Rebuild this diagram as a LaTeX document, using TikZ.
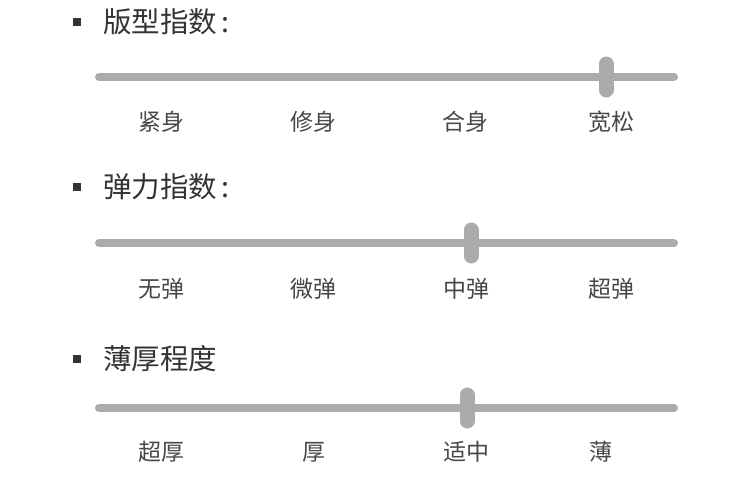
\documentclass[tikz,border=0pt]{standalone}
\usepackage{fontspec}
\setmainfont{Noto Sans CJK SC}
\usetikzlibrary{positioning}

\begin{document}
\begin{tikzpicture}[x=1pt, y=-1pt,
    heading/.style={font=\fontsize{28.5}{32}\selectfont, text=black!80, anchor=west, inner sep=0pt},
    ticklabel/.style={font=\fontsize{23}{27}\selectfont, text=black!72, inner sep=0pt},
    track/.style={line width=8pt, line cap=round, draw=black!33},
    knob/.style={line width=15pt, line cap=round, draw=black!33}]
    \useasboundingbox (0,0) rectangle (750,496);
    % One slider per row: heading, track, knob and tick labels
    \foreach \i/\ty/\sy/\kx/\ly/\name/\labs in {
          1/22/77/606/122/{版型指数\hspace{4pt}:}/{161/紧身,313/修身,465/合身,611/宽松},
          2/187/243/471/289/{弹力指数\hspace{4pt}:}/{161/无弹,313/微弹,466/中弹,611/超弹},
          3/359/408/467/452/{薄厚程度}/{161/超厚,314/厚,466/适中,601/薄}} {
        % Bullet and heading
        \fill[black!80] (73,\ty-4) rectangle (81,\ty+4);
        \node[heading] (head\i) at (103,\ty) {\name};
        % Track with its ends
        \coordinate (left\i) at (99,\sy);
        \coordinate (right\i) at (674,\sy);
        \draw[track] (left\i) -- (right\i);
        % Knob
        \coordinate (knobtop\i) at (\kx,\sy-13);
        \coordinate (knobbot\i) at (\kx,\sy+13);
        \draw[knob] (knobtop\i) -- (knobbot\i);
        % Tick labels under the track
        \foreach \x/\t [count=\j] in \labs {
            \node[ticklabel] (lab\i\j) at (\x,\ly) {\t};
        }
    }
\end{tikzpicture}
\end{document}
